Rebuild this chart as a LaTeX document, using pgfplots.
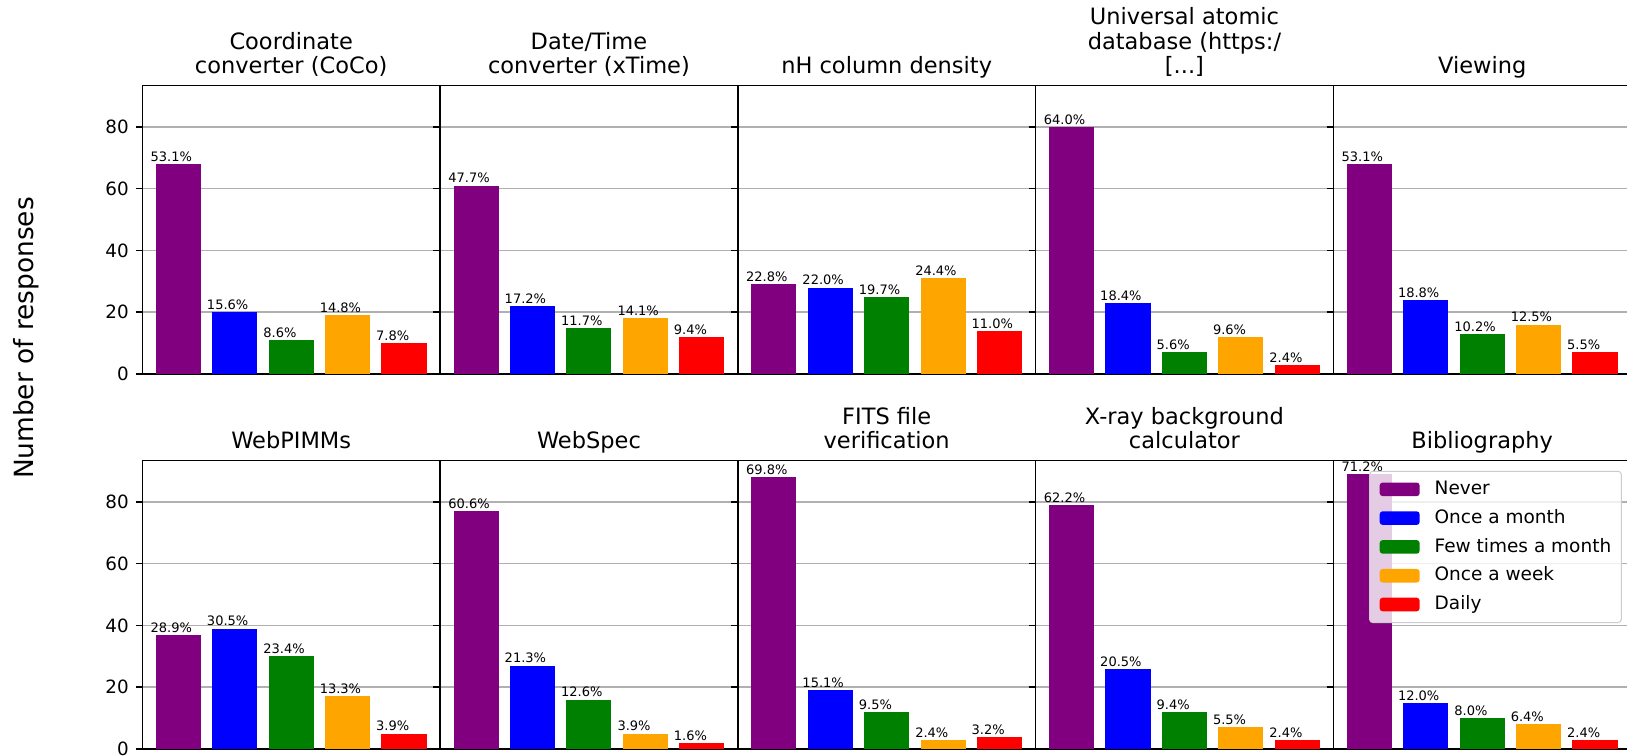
\documentclass[border=0pt]{standalone}
\usepackage{pgfplots}
\pgfplotsset{compat=1.18}
\usepackage{fontspec}
\setmainfont{DejaVu Sans}

\definecolor{cNever}{HTML}{800080}
\definecolor{cMonth}{HTML}{0000FF}
\definecolor{cFew}{HTML}{008000}
\definecolor{cWeek}{HTML}{FFA500}
\definecolor{cDaily}{HTML}{FF0000}
\definecolor{gridgray}{HTML}{B0B0B0}
\definecolor{legendgray}{HTML}{CCCCCC}

% one bar: colour, position, count, percentage label
\newcommand\barc[4]{\addplot[ybar, bar width=0.8, bar shift=0pt, fill=#1, draw=none,
  point meta=explicit symbolic, nodes near coords={\pgfplotspointmeta\%}]
  coordinates {(#2,#3) [#4]};}

\pgfplotsset{
  panel/.style={
    scale only axis, width=148.875pt, height=144.35pt, anchor=south west,
    xmin=-0.64, xmax=4.64, ymin=0, ymax=93.45,
    xtick=\empty, ytick={0,20,40,60,80}, ytick pos=left,
    tick align=outside, major tick length=3.4pt,
    ymajorgrids, grid style={gridgray, line width=0.73pt},
    axis line style={line width=0.73pt},
    every tick/.style={black, line width=0.73pt},
    clip=false,
    /pgf/number format/assume math mode=true,
    yticklabel style={font=\fontsize{9.15}{11}\selectfont, inner sep=0pt, anchor=east, xshift=-3.2pt},
    every axis title shift=6pt,
    title style={at={(0.5,1)}, anchor=base, inner sep=0pt,
      font=\fontsize{11.25}{11.85}\selectfont},
    nodes near coords style={anchor=base west, inner sep=0pt, xshift=-14.1pt, yshift=1.3pt,
      font=\fontsize{6.5}{7}\selectfont, text=black},
  },
  noylabels/.style={yticklabels={}},
}

\begin{document}
\begin{tikzpicture}
\path[use as bounding box, fill=white] (0pt,0pt) rectangle (813.5pt,-377.5pt);

\node[rotate=90, font=\fontsize{13.2}{15}\selectfont] at (13pt,-169pt) {Number of responses};

% ---------- top row ----------
\begin{axis}[panel, at={(71.15pt,-187pt)},
  title={\begin{tabular}[b]{@{}c@{}}Coordinate\\converter (CoCo)\end{tabular}}]
\barc{cNever}{0}{68}{53.1}
\barc{cMonth}{1}{20}{15.6}
\barc{cFew}{2}{11}{8.6}
\barc{cWeek}{3}{19}{14.8}
\barc{cDaily}{4}{10}{7.8}
\end{axis}

\begin{axis}[panel, noylabels, at={(220.025pt,-187pt)},
  title={\begin{tabular}[b]{@{}c@{}}Date/Time\\converter (xTime)\end{tabular}}]
\barc{cNever}{0}{61}{47.7}
\barc{cMonth}{1}{22}{17.2}
\barc{cFew}{2}{15}{11.7}
\barc{cWeek}{3}{18}{14.1}
\barc{cDaily}{4}{12}{9.4}
\end{axis}

\begin{axis}[panel, noylabels, at={(368.9pt,-187pt)},
  title={nH column density}]
\barc{cNever}{0}{29}{22.8}
\barc{cMonth}{1}{28}{22.0}
\barc{cFew}{2}{25}{19.7}
\barc{cWeek}{3}{31}{24.4}
\barc{cDaily}{4}{14}{11.0}
\end{axis}

\begin{axis}[panel, noylabels, at={(517.775pt,-187pt)},
  title={\begin{tabular}[b]{@{}c@{}}Universal atomic\\database (https:/\\\relax[...]\end{tabular}}]
\barc{cNever}{0}{80}{64.0}
\barc{cMonth}{1}{23}{18.4}
\barc{cFew}{2}{7}{5.6}
\barc{cWeek}{3}{12}{9.6}
\barc{cDaily}{4}{3}{2.4}
\end{axis}

\begin{axis}[panel, noylabels, at={(666.65pt,-187pt)},
  title={Viewing}]
\barc{cNever}{0}{68}{53.1}
\barc{cMonth}{1}{24}{18.8}
\barc{cFew}{2}{13}{10.2}
\barc{cWeek}{3}{16}{12.5}
\barc{cDaily}{4}{7}{5.5}
\end{axis}

% ---------- bottom row ----------
\begin{axis}[panel, at={(71.15pt,-374.5pt)},
  title={WebPIMMs}]
\barc{cNever}{0}{37}{28.9}
\barc{cMonth}{1}{39}{30.5}
\barc{cFew}{2}{30}{23.4}
\barc{cWeek}{3}{17}{13.3}
\barc{cDaily}{4}{5}{3.9}
\end{axis}

\begin{axis}[panel, noylabels, at={(220.025pt,-374.5pt)},
  title={WebSpec}]
\barc{cNever}{0}{77}{60.6}
\barc{cMonth}{1}{27}{21.3}
\barc{cFew}{2}{16}{12.6}
\barc{cWeek}{3}{5}{3.9}
\barc{cDaily}{4}{2}{1.6}
\end{axis}

\begin{axis}[panel, noylabels, at={(368.9pt,-374.5pt)},
  title={\begin{tabular}[b]{@{}c@{}}FITS file\\verification\end{tabular}}]
\barc{cNever}{0}{88}{69.8}
\barc{cMonth}{1}{19}{15.1}
\barc{cFew}{2}{12}{9.5}
\barc{cWeek}{3}{3}{2.4}
\barc{cDaily}{4}{4}{3.2}
\end{axis}

\begin{axis}[panel, noylabels, at={(517.775pt,-374.5pt)},
  title={\begin{tabular}[b]{@{}c@{}}X-ray background\\calculator\end{tabular}}]
\barc{cNever}{0}{79}{62.2}
\barc{cMonth}{1}{26}{20.5}
\barc{cFew}{2}{12}{9.4}
\barc{cWeek}{3}{7}{5.5}
\barc{cDaily}{4}{3}{2.4}
\end{axis}

\begin{axis}[panel, noylabels, at={(666.65pt,-374.5pt)},
  title={Bibliography},
  legend entries={Never,Once a month,Few times a month,Once a week,Daily},
  legend cell align=left,
  legend image code/.code={\fill[#1, fill opacity=1] (0pt,-3.4pt) rectangle (20pt,3.4pt);},
  legend style={at={(1,1)}, anchor=north east, xshift=-4.65pt, yshift=-5.25pt,
    draw=legendgray, line width=0.5pt, rounded corners=1.5pt,
    fill=white, fill opacity=0.8, draw opacity=1, text opacity=1,
    inner xsep=5pt, inner ysep=4pt, row sep=4.4pt, column sep=7.5pt,
    font=\fontsize{9.25}{11}\selectfont,
    nodes={inner sep=0pt, text height=0.76em, text depth=0.24em}}]
\barc{cNever}{0}{89}{71.2}
\barc{cMonth}{1}{15}{12.0}
\barc{cFew}{2}{10}{8.0}
\barc{cWeek}{3}{8}{6.4}
\barc{cDaily}{4}{3}{2.4}
\end{axis}
\end{tikzpicture}
\end{document}
